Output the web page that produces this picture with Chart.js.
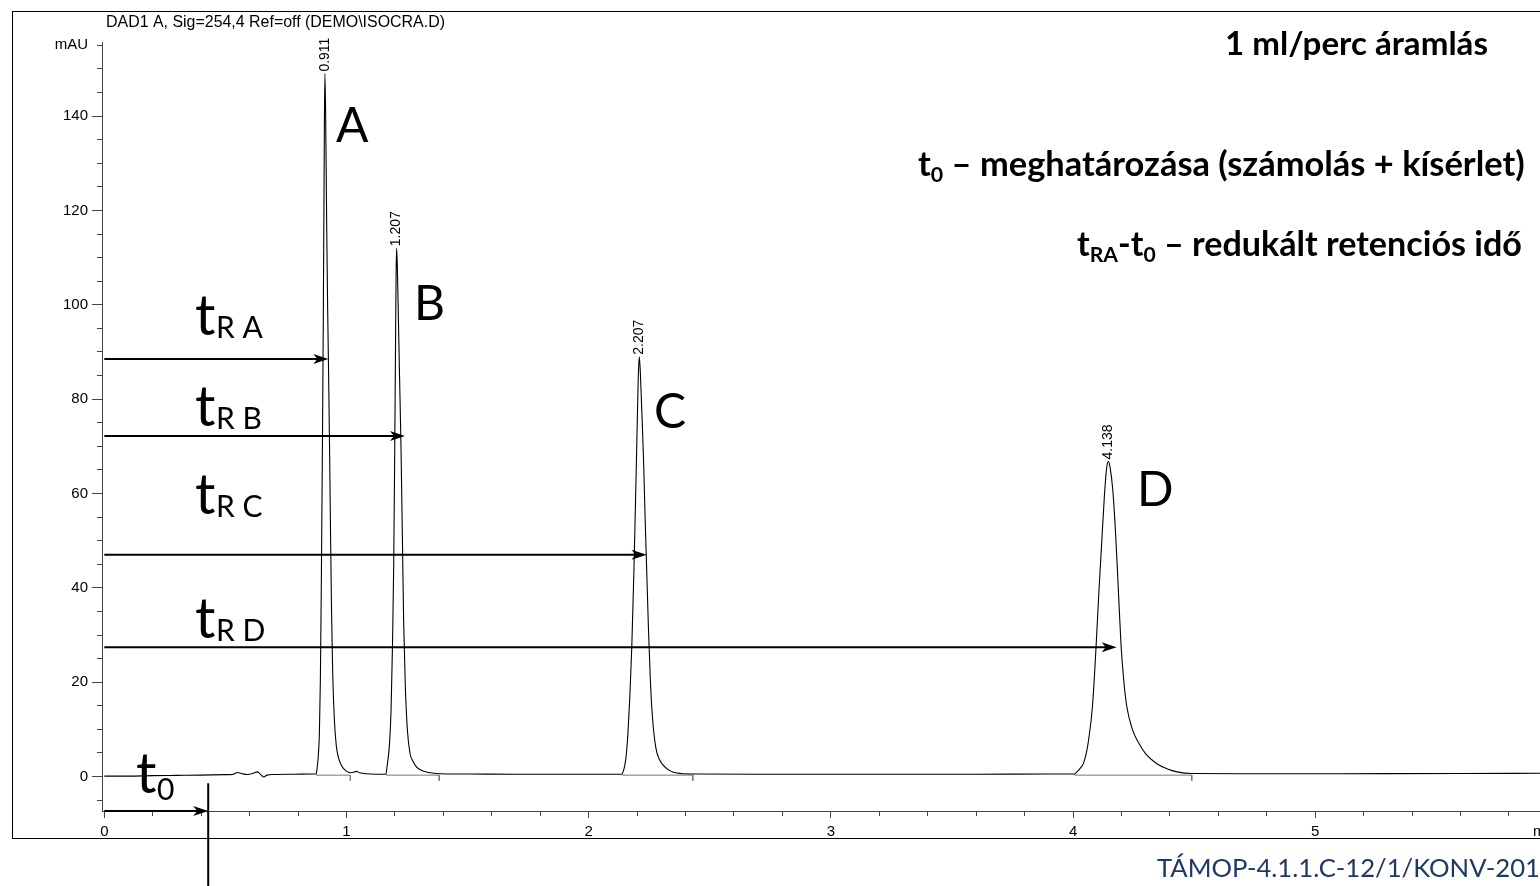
<!DOCTYPE html>
<html><head><meta charset="utf-8">
<script src="https://cdn.jsdelivr.net/npm/chart.js@4.4.1/dist/chart.umd.min.js"></script>
<style>html,body{margin:0;padding:0;background:#fff;overflow:hidden}#wrap{width:1540px;height:886px;position:relative}</style>
</head><body><div id="wrap"><canvas id="c" width="1540" height="886"></canvas></div>
<script>
// ---------------- data ----------------
const traceTime = [
  0.000,0.100,0.200,0.300,0.400,0.500,0.530,0.550,0.570,0.590,0.615,0.632,0.648,0.658,0.672,0.700,0.780,0.860,0.875,
  0.878,0.883,0.888,0.892,0.896,0.900,0.904,0.907,0.909,0.911,
  0.914,0.918,0.922,0.926,0.930,0.934,0.938,0.943,0.950,0.958,0.968,0.981,0.998,1.016,1.028,1.040,1.055,1.080,1.120,1.163,
  1.166,1.171,1.177,1.184,1.190,1.195,1.199,1.203,1.205,1.207,
  1.210,1.214,1.219,1.225,1.231,1.236,1.243,1.252,1.262,1.275,1.290,1.310,1.340,1.383,1.500,1.700,1.900,2.050,2.137,
  2.142,2.148,2.155,2.162,2.170,2.178,2.187,2.195,2.201,2.205,2.209,
  2.213,2.219,2.226,2.233,2.240,2.247,2.255,2.265,2.277,2.292,2.316,2.340,2.364,2.430,2.700,3.000,3.300,3.600,3.900,4.005,
  4.016,4.030,4.043,4.054,4.064,4.080,4.095,4.107,4.119,4.130,4.139,4.146,
  4.153,4.164,4.177,4.188,4.198,4.210,4.222,4.245,4.270,4.300,4.346,4.390,4.429,4.490,4.700,5.000,5.300,5.600,5.928
];
const traceMAU = [
  0.1,0.1,0.2,0.25,0.3,0.4,0.45,0.85,0.6,0.45,0.7,1.0,0.3,-0.1,0.3,0.45,0.5,0.55,0.55,
  1.5,4,9,20,40,66,95,122,140,149,
  140,118,100,86,70,52,36,22,12,6.5,3.8,2.2,1.2,0.8,0.9,1.1,0.8,0.6,0.5,0.5,
  1.5,3.5,6.5,14,28,45,68,95,107,112,
  108,98,85,70,50,33,19,9.5,5,3.2,2.0,1.3,0.85,0.6,0.55,0.5,0.5,0.5,0.5,
  1.0,2.1,4.5,9.2,17,27.5,44,62,76,85,89,
  86,78,68,55,43,31,20,11.5,6.2,3.6,2.0,1.1,0.75,0.55,0.5,0.5,0.5,0.5,0.55,0.55,
  1.0,1.8,2.8,4.8,7.7,14.8,27.5,39.5,50.2,60,65.5,66.8,
  65.5,60.8,50.2,38.5,28,20,14.8,10,7.2,4.8,2.7,1.6,1.0,0.65,0.6,0.6,0.62,0.65,0.7
];
const peakRT = [0.911, 1.207, 2.207, 4.138];        // printed retention times
const peakApexTime = [0.911, 1.207, 2.209, 4.146];
const peakApexMAU = [149, 112, 89, 66.8];
const peakLetters = ['A', 'B', 'C', 'D'];
const integStart = [0.875, 1.163, 2.137, 4.005];
const integEnd = [1.016, 1.383, 2.430, 4.490];
const arrowLevels = [88.5, 72.2, 47.0, 27.4];
const arrowTips = [0.925, 1.2415, 2.239, 4.180];
const arrowSubs = ['R A', 'R B', 'R C', 'R D'];
const t0Time = 0.429;
const yMajorTicks = [0, 20, 40, 60, 80, 100, 120, 140];
const yUnitTick = 155;
const yUnitLabel = 'mAU';
const yMinorTicks = [-5,5,10,15,25,30,35,45,50,55,65,70,75,85,90,95,105,110,115,125,130,135,145,150,155];
const xMajorTicks = [0, 1, 2, 3, 4, 5];
const xMinorTicks = [0.2,0.4,0.6,0.8,1.2,1.4,1.6,1.8,2.2,2.4,2.6,2.8,3.2,3.4,3.6,3.8,4.2,4.4,4.6,4.8,5.2,5.4,5.6,5.8];
const xUnitLabel = 'min';
const headerText = 'DAD1 A, Sig=254,4 Ref=off (DEMO\\ISOCRA.D)';
const noteLine1 = [{t:'1 ml/perc áramlás'}];
const noteLine2 = [{t:'t'},{t:'0',sub:true},{t:' – meghatározása (számolás + kísérlet)'}];
const noteLine3 = [{t:'t'},{t:'RA',sub:true},{t:'-t'},{t:'0',sub:true},{t:' – redukált retenciós idő'}];
const footerText = 'TÁMOP-4.1.1.C-12/1/KONV-2012-0005';
const footerFitPart = 'TÁMOP-4.1.1.C-12/1/KONV-201';

// ---------------- layout / style ----------------
const X_MIN = -0.0095, X_MAX = 5.928, Y_MIN = -7.3, Y_MAX = 155.7;
const ARIAL = '"Liberation Sans", Arial, sans-serif';
const CAL = 'Lato, "Open Sans", sans-serif';
const AXIS_COL = '#444';

function richWidth(ctx, parts, size, family, weight) {
  let w = 0;
  for (const p of parts) {
    const s = p.sub ? size * 0.62 : size;
    ctx.font = `${weight} ${s}px ${family}`;
    w += ctx.measureText(p.t).width;
  }
  return w;
}
function drawRich(ctx, parts, x, y, size, family, weight, color) {
  ctx.fillStyle = color; ctx.textAlign = 'left'; ctx.textBaseline = 'alphabetic';
  for (const p of parts) {
    const s = p.sub ? size * 0.62 : size;
    ctx.font = `${weight} ${s}px ${family}`;
    ctx.fillText(p.t, x, y + (p.sub ? size * 0.17 : 0));
    x += ctx.measureText(p.t).width;
  }
}
function fitSize(ctx, parts, family, weight, w) {
  return 100 * w / richWidth(ctx, parts, 100, family, weight);
}
function arrowHead(ctx, x, y) {
  ctx.beginPath();
  ctx.moveTo(x, y);
  ctx.lineTo(x - 15, y - 5);
  ctx.lineTo(x - 11, y);
  ctx.lineTo(x - 15, y + 5);
  ctx.closePath();
  ctx.fillStyle = '#000';
  ctx.fill();
}

const decor = {
  id: 'decor',
  afterDatasetsDraw(chart) {
    const ctx = chart.ctx, xs = chart.scales.x, ys = chart.scales.y;
    ctx.save();
    // outer frame
    ctx.strokeStyle = '#000'; ctx.lineWidth = 1;
    ctx.strokeRect(12.5, 11.5, 1700, 827);
    // header
    const hs = fitSize(ctx, [{t: headerText}], ARIAL, 'normal', 339);
    drawRich(ctx, [{t: headerText}], 106, 27, hs, ARIAL, 'normal', '#000');
    // rotated retention time labels
    ctx.font = `14px ${ARIAL}`; ctx.fillStyle = '#000';
    peakRT.forEach((rt, i) => {
      const px = xs.getPixelForValue(peakApexTime[i]);
      const py = ys.getPixelForValue(peakApexMAU[i]);
      ctx.save();
      ctx.translate(px, py - 2);
      ctx.rotate(-Math.PI / 2);
      ctx.textAlign = 'left'; ctx.textBaseline = 'middle';
      ctx.fillText(rt.toFixed(3), 0, 0);
      ctx.restore();
    });
    // arrowheads
    arrowLevels.forEach((lv, i) => {
      arrowHead(ctx, xs.getPixelForValue(arrowTips[i]), ys.getPixelForValue(lv));
    });
    arrowHead(ctx, xs.getPixelForValue(t0Time), ys.getPixelForValue(Y_MIN));
    // peak letters
    const letterPos = [[336, 142], [414, 320], [654, 428], [1137, 506]];
    peakLetters.forEach((L, i) => drawRich(ctx, [{t: L}], letterPos[i][0], letterPos[i][1], 48, CAL, 'normal', '#000'));
    // t_R labels
    const tPos = [[195, 335], [195, 426], [195, 514], [195, 638]];
    arrowSubs.forEach((s, i) => {
      drawRich(ctx, [{t: 't'}], tPos[i][0], tPos[i][1], 57, CAL, 'normal', '#000');
      drawRich(ctx, [{t: s}], tPos[i][0] + 21, tPos[i][1] + 3, 30, CAL, 'normal', '#000');
    });
    drawRich(ctx, [{t: 't'}], 136, 793, 57, CAL, 'normal', '#000');
    drawRich(ctx, [{t: '0'}], 157, 800, 30, CAL, 'normal', '#000');
    // notes
    let s = fitSize(ctx, noteLine1, CAL, 'bold', 263);
    drawRich(ctx, noteLine1, 1225, 55, s, CAL, 'bold', '#000');
    s = fitSize(ctx, noteLine2, CAL, 'bold', 607);
    drawRich(ctx, noteLine2, 918, 176, s, CAL, 'bold', '#000');
    s = fitSize(ctx, noteLine3, CAL, 'bold', 445);
    drawRich(ctx, noteLine3, 1077, 256, s, CAL, 'bold', '#000');
    // footer
    s = fitSize(ctx, [{t: footerFitPart}], CAL, 'normal', 383);
    drawRich(ctx, [{t: footerText}], 1157, 877, s, CAL, 'normal', '#1F3864');
    // x unit
    ctx.font = `15px ${ARIAL}`; ctx.fillStyle = '#000'; ctx.textAlign = 'left'; ctx.textBaseline = 'middle';
    ctx.fillText(xUnitLabel, 1533, 832);
    ctx.restore();
  }
};

// ---------------- datasets ----------------
const datasets = [{
  data: traceTime.map((t, i) => ({x: t, y: traceMAU[i]})),
  borderColor: '#000', borderWidth: 1.1, pointRadius: 0, cubicInterpolationMode: 'monotone', order: 1
}];
integStart.forEach((s, i) => datasets.push({
  data: [{x: s, y: 0.3}, {x: integEnd[i], y: 0.3}, {x: integEnd[i], y: -0.9}],
  borderColor: '#777', borderWidth: 1, pointRadius: 0, tension: 0, order: 2
}));
arrowLevels.forEach((lv, i) => datasets.push({
  data: [{x: 0, y: lv}, {x: arrowTips[i] - 0.03, y: lv}],
  borderColor: '#000', borderWidth: 2, pointRadius: 0, tension: 0, order: 0
}));
datasets.push({
  data: [{x: 0, y: Y_MIN}, {x: t0Time - 0.03, y: Y_MIN}],
  borderColor: '#000', borderWidth: 2, pointRadius: 0, tension: 0, clip: false, order: 0
});
datasets.push({
  data: [{x: t0Time, y: -1.4}, {x: t0Time, y: -24}],
  borderColor: '#000', borderWidth: 2, pointRadius: 0, tension: 0, clip: false, order: 0
});

const tickFont = {family: ARIAL, size: 15};
new Chart(document.getElementById('c'), {
  type: 'line',
  data: {datasets},
  options: {
    responsive: false, animation: false, devicePixelRatio: 1,
    layout: {padding: {top: 42, left: 0, right: 0, bottom: 0}},
    plugins: {legend: {display: false}, tooltip: {enabled: false}, title: {display: false}},
    scales: {
      x: {
        type: 'linear', position: 'bottom', weight: 1, min: X_MIN, max: X_MAX,
        afterBuildTicks: sc => { sc.ticks = xMajorTicks.map(v => ({value: v})); },
        afterFit: sc => { sc.height = 75; },
        grid: {drawOnChartArea: false, drawTicks: true, tickLength: 7, tickColor: AXIS_COL, tickWidth: 1},
        border: {display: true, color: AXIS_COL, width: 1},
        ticks: {font: tickFont, color: '#000', padding: 5, maxRotation: 0, autoSkip: false, callback: v => String(v)}
      },
      x2: {
        type: 'linear', position: 'bottom', weight: 0, min: X_MIN, max: X_MAX,
        afterBuildTicks: sc => { sc.ticks = xMinorTicks.map(v => ({value: v})); },
        afterFit: sc => { sc.height = 0; },
        grid: {drawOnChartArea: false, drawTicks: true, tickLength: 5, tickColor: AXIS_COL, tickWidth: 1},
        border: {display: false},
        ticks: {display: false}
      },
      y: {
        type: 'linear', position: 'left', weight: 1, min: Y_MIN, max: Y_MAX,
        afterBuildTicks: sc => { sc.ticks = yMajorTicks.concat([yUnitTick]).map(v => ({value: v})); },
        afterFit: sc => { sc.width = 102; },
        grid: {drawOnChartArea: false, drawTicks: true, tickLength: 10, tickWidth: 1,
               tickColor: c => (c.tick && c.tick.value === yUnitTick) ? 'rgba(0,0,0,0)' : AXIS_COL},
        border: {display: true, color: AXIS_COL, width: 1},
        ticks: {font: tickFont, color: '#000', padding: 4, autoSkip: false,
                callback: v => v === yUnitTick ? yUnitLabel : String(v)}
      },
      y2: {
        type: 'linear', position: 'left', weight: 0, min: Y_MIN, max: Y_MAX,
        afterBuildTicks: sc => { sc.ticks = yMinorTicks.map(v => ({value: v})); },
        afterFit: sc => { sc.width = 0; },
        grid: {drawOnChartArea: false, drawTicks: true, tickLength: 5, tickColor: AXIS_COL, tickWidth: 1},
        border: {display: false},
        ticks: {display: false}
      }
    }
  },
  plugins: [decor]
});
</script></body></html>
